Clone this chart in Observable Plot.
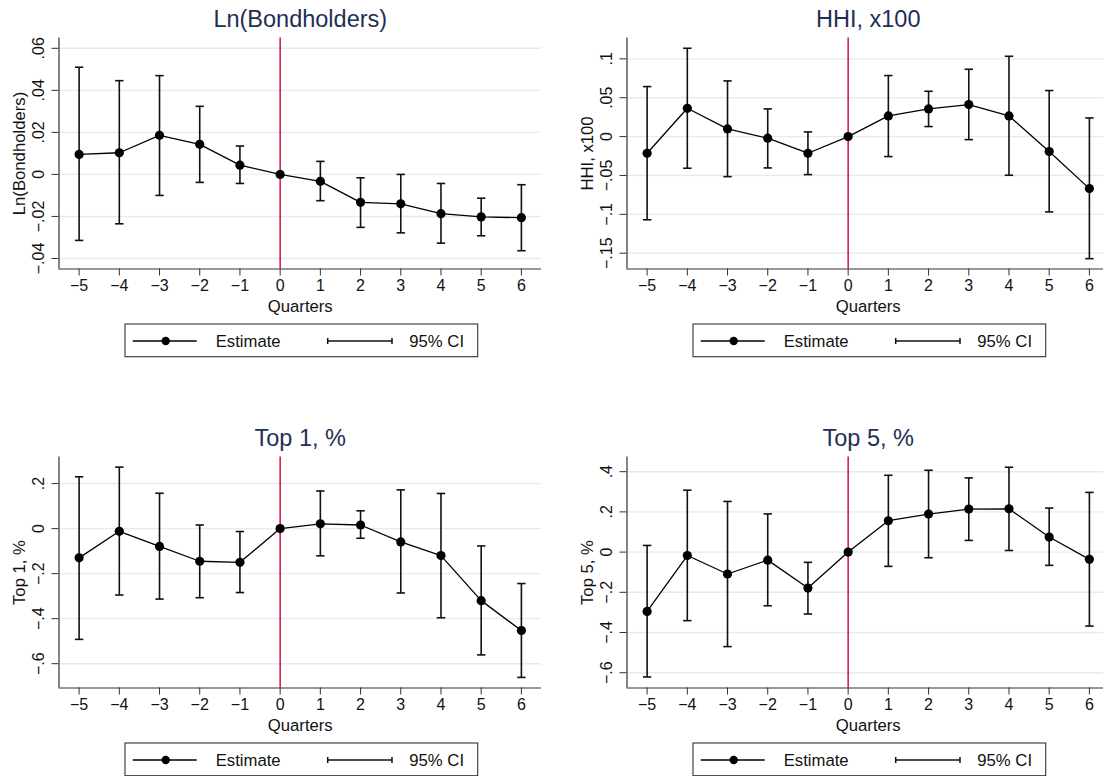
<!DOCTYPE html>
<html><head><meta charset="utf-8">
<script src="https://cdn.jsdelivr.net/npm/d3@7"></script>
<script src="https://cdn.jsdelivr.net/npm/@observablehq/plot@0.6"></script>
<style>
html,body{margin:0;padding:0;background:#fff;overflow:hidden;}
#wrap{position:relative;width:1103px;height:776px;overflow:hidden;background:#fff;}
#wrap svg{position:absolute;}
</style></head><body><div id="wrap"></div>
<script>
// ---- data ----
const quarters = [-5, -4, -3, -2, -1, 0, 1, 2, 3, 4, 5, 6];
const xTickLabels = ["−5", "−4", "−3", "−2", "−1", "0", "1", "2", "3", "4", "5", "6"];
const xLabel = "Quarters";

const bondTitle = "Ln(Bondholders)";
const bondEst = [0.0095, 0.0103, 0.0186, 0.0143, 0.0044, 0, -0.0033, -0.0133, -0.0140, -0.0187, -0.0202, -0.0206];
const bondLo  = [-0.0314, -0.0235, -0.0100, -0.0038, -0.0043, null, -0.0125, -0.0252, -0.0278, -0.0327, -0.0292, -0.0363];
const bondHi  = [0.0510, 0.0446, 0.0470, 0.0324, 0.0135, null, 0.0062, -0.0016, 0.0000, -0.0043, -0.0113, -0.0049];
const bondTicks = [-0.04, -0.02, 0, 0.02, 0.04, 0.06];
const bondDomain = [-0.045, 0.0649];

const hhiTitle = "HHI, x100";
const hhiEst = [-0.0214, 0.0364, 0.0099, -0.0021, -0.0214, 0, 0.0266, 0.0356, 0.0412, 0.0266, -0.0193, -0.0669];
const hhiLo  = [-0.1070, -0.0407, -0.0515, -0.0403, -0.0489, null, -0.0257, 0.0129, -0.0039, -0.0497, -0.0969, -0.1570];
const hhiHi  = [0.0643, 0.1136, 0.0716, 0.0356, 0.0060, null, 0.0785, 0.0583, 0.0866, 0.1033, 0.0592, 0.0240];
const hhiTicks = [-0.15, -0.1, -0.05, 0, 0.05, 0.1];
const hhiDomain = [-0.1703, 0.1268];

const top1Title = "Top 1, %";
const top1Est = [-0.130, -0.012, -0.079, -0.145, -0.150, 0, 0.021, 0.016, -0.059, -0.120, -0.320, -0.453];
const top1Lo  = [-0.492, -0.295, -0.313, -0.307, -0.284, null, -0.121, -0.043, -0.286, -0.396, -0.561, -0.661];
const top1Hi  = [0.230, 0.273, 0.157, 0.016, -0.013, null, 0.167, 0.079, 0.172, 0.156, -0.077, -0.244];
const top1Ticks = [-0.6, -0.4, -0.2, 0, 0.2];
const top1Domain = [-0.708, 0.318];

const top5Title = "Top 5, %";
const top5Est = [-0.295, -0.017, -0.109, -0.040, -0.179, 0, 0.156, 0.189, 0.214, 0.215, 0.075, -0.036];
const top5Lo  = [-0.621, -0.341, -0.470, -0.267, -0.308, null, -0.071, -0.028, 0.058, 0.008, -0.066, -0.368];
const top5Hi  = [0.033, 0.308, 0.252, 0.190, -0.051, null, 0.382, 0.407, 0.369, 0.422, 0.219, 0.297];
const top5Ticks = [-0.6, -0.4, -0.2, 0, 0.2, 0.4];
const top5Domain = [-0.676, 0.473];

const legendLabels = ["Estimate", "95% CI"];
const xDomain = [-5.5, 6.5];

// ---- styling ----
const FONT = "'Liberation Sans', Arial, Helvetica, sans-serif";
const TITLE_COLOR = "#1e2f55";
const RED = "#d3002c";
const GRID = "#e4ecef";
const W = 568, H = 388;
const M = {left: 58.5, right: 27, top: 37.5, bottom: 119.5};

const fmtY = v => v === 0 ? "0" : (v < 0 ? "−" : "") + String(Math.abs(v)).replace(/^0/, "");
const capSymbol = {draw(ctx, size) { const w = Math.sqrt(size / Math.PI); ctx.moveTo(-w, 0); ctx.lineTo(w, 0); }};

function panel(title, est, lo, hi, yTicks, yDomain) {
  const rows = quarters.map((q, i) => ({q, est: est[i], lo: lo[i], hi: hi[i]}));
  const ci = rows.filter(d => d.lo != null && d.hi != null);
  const svg = Plot.plot({
    width: W, height: H,
    marginLeft: M.left, marginRight: M.right, marginTop: M.top, marginBottom: M.bottom,
    style: {fontFamily: FONT, fontSize: "16px", color: "#111", background: "white"},
    x: {domain: xDomain},
    y: {domain: yDomain},
    marks: [
      Plot.gridY(yTicks, {stroke: GRID, strokeOpacity: 1, strokeWidth: 1.4}),
      Plot.ruleX([0], {stroke: RED, strokeWidth: 1.4}),
      Plot.ruleX([xDomain[0]], {stroke: "#333", strokeWidth: 1.2}),
      Plot.ruleY([yDomain[0]], {stroke: "#333", strokeWidth: 1.2}),
      Plot.axisY(yTicks, {tickFormat: fmtY, tickRotate: -90, tickSize: 7, tickPadding: 8, fontSize: 16, label: null, stroke: "#333"}),
      Plot.axisX(quarters, {tickFormat: (d) => xTickLabels[quarters.indexOf(d)], tickSize: 7, tickPadding: 4, fontSize: 16, label: null, stroke: "#333"}),
      Plot.link(ci, {x1: "q", x2: "q", y1: "lo", y2: "hi", stroke: "#111", strokeWidth: 1.6}),
      Plot.dot(ci, {x: "q", y: "lo", symbol: capSymbol, r: 4.2, stroke: "#111", strokeWidth: 1.6}),
      Plot.dot(ci, {x: "q", y: "hi", symbol: capSymbol, r: 4.2, stroke: "#111", strokeWidth: 1.6}),
      Plot.line(rows, {x: "q", y: "est", stroke: "#000", strokeWidth: 1.3}),
      Plot.dot(rows, {x: "q", y: "est", r: 4.6, fill: "#000", stroke: "none"}),
      Plot.text([title], {frameAnchor: "top", dy: -11, lineAnchor: "bottom", fontSize: 23.5, fill: TITLE_COLOR}),
      Plot.text([title], {frameAnchor: "left", dx: -34.5, rotate: -90, textAnchor: "middle", lineAnchor: "bottom", fontSize: 16.7, fill: "#111"}),
      Plot.text([xLabel], {frameAnchor: "bottom", dy: 43, lineAnchor: "bottom", fontSize: 16.7, fill: "#111"})
    ]
  });
  // legend below the plot
  const fb = H - M.bottom;
  const g = d3.select(svg).append("g").attr("transform", `translate(125,${fb + 55.5})`)
    .attr("font-family", FONT).attr("font-size", 16.7).attr("fill", "#111").attr("text-anchor", "start");
  g.append("rect").attr("x", 0).attr("y", 0).attr("width", 352.7).attr("height", 32.7)
    .attr("fill", "white").attr("stroke", "#333").attr("stroke-width", 1.1);
  g.append("line").attr("x1", 7.7).attr("x2", 71.7).attr("y1", 17).attr("y2", 17).attr("stroke", "#000").attr("stroke-width", 1.3);
  g.append("circle").attr("cx", 40.7).attr("cy", 17).attr("r", 4.2).attr("fill", "#000");
  g.append("text").attr("x", 90.7).attr("y", 22.6).attr("text-anchor", "start").text(legendLabels[0]);
  g.append("line").attr("x1", 202.7).attr("x2", 267).attr("y1", 17).attr("y2", 17).attr("stroke", "#111").attr("stroke-width", 1.5);
  g.append("line").attr("x1", 202.7).attr("x2", 202.7).attr("y1", 14).attr("y2", 20).attr("stroke", "#111").attr("stroke-width", 1.5);
  g.append("line").attr("x1", 267).attr("x2", 267).attr("y1", 14).attr("y2", 20).attr("stroke", "#111").attr("stroke-width", 1.5);
  g.append("text").attr("x", 284.3).attr("y", 22.6).attr("text-anchor", "start").text(legendLabels[1]);
  return svg;
}

const wrap = document.getElementById("wrap");
const specs = [
  [bondTitle, bondEst, bondLo, bondHi, bondTicks, bondDomain, 0, 0],
  [hhiTitle, hhiEst, hhiLo, hhiHi, hhiTicks, hhiDomain, 568.2, 0],
  [top1Title, top1Est, top1Lo, top1Hi, top1Ticks, top1Domain, 0, 418.5],
  [top5Title, top5Est, top5Lo, top5Hi, top5Ticks, top5Domain, 568.2, 418.5]
];
for (const [t, e, l, h, tk, dom, left, top] of specs) {
  const s = panel(t, e, l, h, tk, dom);
  s.style.left = left + "px";
  s.style.top = top + "px";
  wrap.appendChild(s);
}
</script></body></html>
